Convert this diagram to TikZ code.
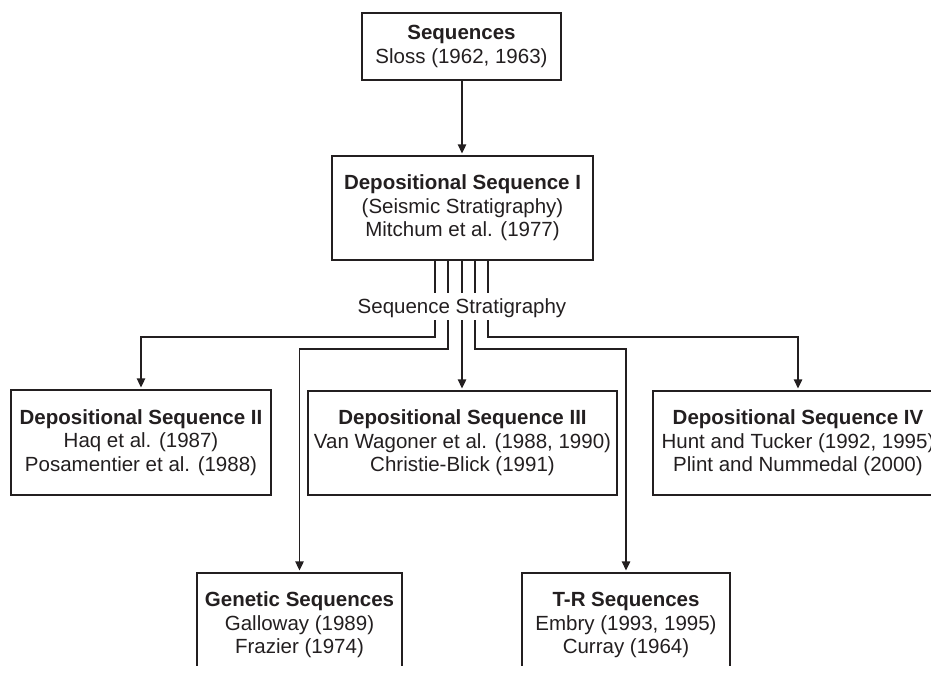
\documentclass[tikz,border=0pt]{standalone}
\usepackage{fontspec}
\setmainfont{Liberation Sans}
\usetikzlibrary{arrows.meta}
\definecolor{ink}{HTML}{231F20}
\begin{document}
\begin{tikzpicture}[x=1pt,y=-1pt,
  txtfont/.style={font=\fontsize{20.5}{23.5}\selectfont, text=ink},
  box/.style={draw=ink, line width=1.3pt, align=center, inner sep=0pt, txtfont},
  ln/.style={draw=ink, line width=1.3pt},
  arr/.style={ln, -{Triangle[width=8.5pt,length=9pt]}, shorten >=2pt}]
\useasboundingbox (0,0) rectangle (931,673);
\fill[white] (0,0) rectangle (931,673);
\clip (0,0) rectangle (931,665);

\node[box, minimum width=199pt, minimum height=67pt] (seq) at (461.5,46.5)
  {\textbf{Sequences}\\Sloss (1962, 1963)};
\node[box, minimum width=261pt, minimum height=104pt] (d1) at (462.5,208)
  {\textbf{Depositional Sequence I}\\(Seismic Stratigraphy)\\Mitchum et al. (1977)};
\node[box, minimum width=260pt, minimum height=105pt] (d2) at (141,442.5)
  {\textbf{Depositional Sequence II}\\Haq et al. (1987)\\Posamentier et al. (1988)};
\node[box, minimum width=309pt, minimum height=104pt] (d3) at (462.5,443)
  {\textbf{Depositional Sequence III}\\Van Wagoner et al. (1988, 1990)\\Christie-Blick (1991)};
\node[box, minimum width=290pt, minimum height=104pt] (d4) at (798,443)
  {\textbf{Depositional Sequence IV}\\Hunt and Tucker (1992, 1995)\\Plint and Nummedal (2000)};
\node[box, minimum width=205pt, minimum height=104pt] (gen) at (299.5,625)
  {\textbf{Genetic Sequences}\\Galloway (1989)\\Frazier (1974)};
\node[box, minimum width=208pt, minimum height=104pt] (tr) at (626,625)
  {\textbf{T-R Sequences}\\Embry (1993, 1995)\\Curray (1964)};

\node[txtfont, text height=16.5pt, text depth=2.7pt, inner ysep=4pt, inner xsep=2pt] (ss) at (462,306.4)
  {Sequence Stratigraphy};

\coordinate (c1) at (435,0);
\coordinate (c2) at (448,0);
\coordinate (c3) at (462,0);
\coordinate (c4) at (475,0);
\coordinate (c5) at (488,0);
\coordinate (h1) at (0,337);
\coordinate (h2) at (0,349);

\draw[arr] (seq.south -| c3) -- (d1.north -| c3);
\foreach \c in {c1,c2,c3,c4,c5}
  \draw[ln] (d1.south -| \c) -- (ss.north -| \c);
\draw[arr] (ss.south -| c1) |- (h1 -| d2.north) -- (d2.north);
\draw[arr] (ss.south -| c2) |- (h2 -| gen.north) -- (gen.north);
\draw[arr] (ss.south -| c3) -- (d3.north -| c3);
\draw[arr] (ss.south -| c4) |- (h2 -| tr.north) -- (tr.north);
\draw[arr] (ss.south -| c5) |- (h1 -| d4.north) -- (d4.north);
\end{tikzpicture}
\end{document}
